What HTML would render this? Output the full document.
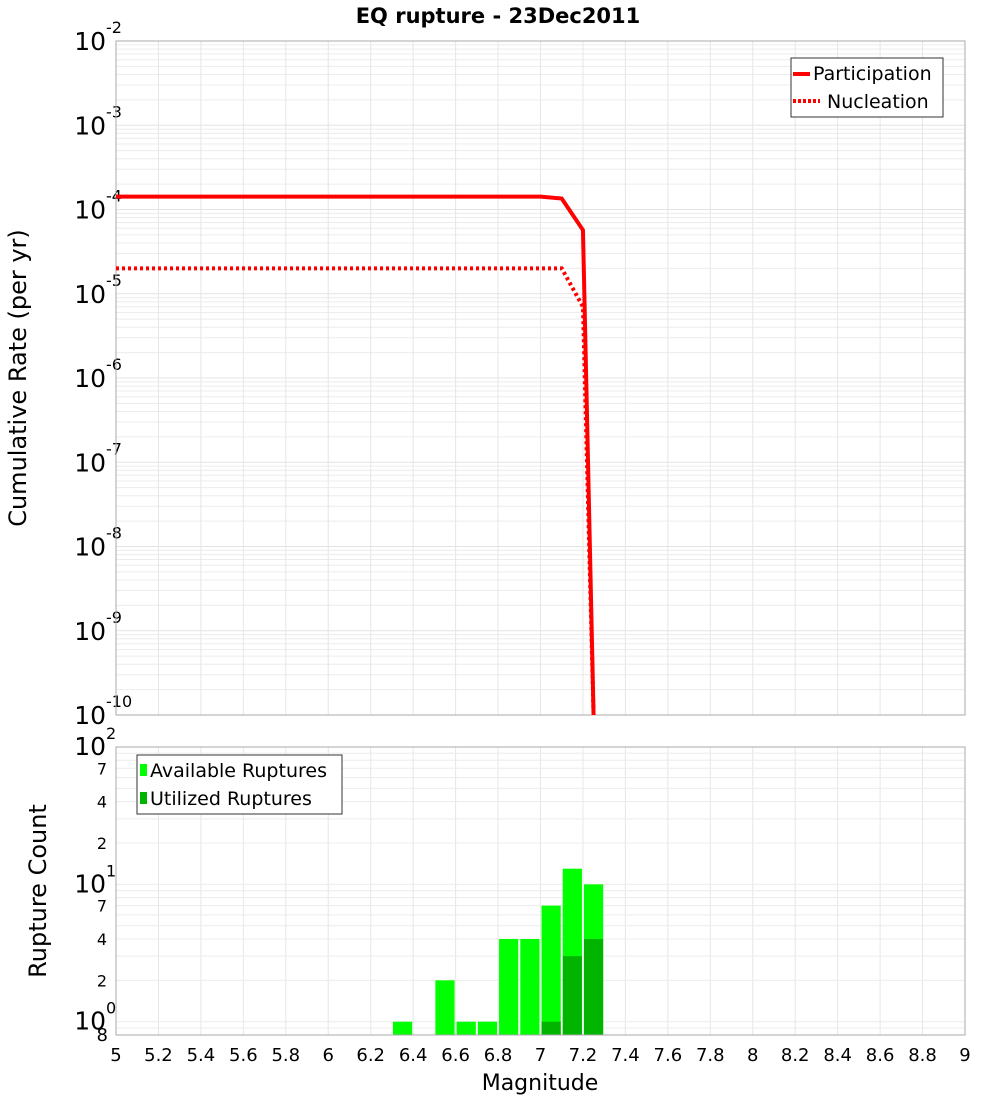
<!DOCTYPE html>
<html><head><meta charset="utf-8"><style>
body{margin:0;background:#fff;font-family:"Liberation Sans","DejaVu Sans",sans-serif}
svg text{font-family:"DejaVu Sans","Liberation Sans",sans-serif}
</style></head><body>
<svg id="c" width="1000" height="1100" xmlns="http://www.w3.org/2000/svg">
<rect width="1000" height="1100" fill="#fff"/>
<text x="498" y="23" font-size="21" font-weight="bold" text-anchor="middle">EQ rupture - 23Dec2011</text>
<g id="topG"></g>
<g id="botG"></g>
<text transform="translate(26,378) rotate(-90)" font-size="24" text-anchor="middle">Cumulative Rate (per yr)</text>
<text transform="translate(46,891) rotate(-90)" font-size="24" text-anchor="middle">Rupture Count</text>
<text x="540" y="1090" font-size="22" text-anchor="middle">Magnitude</text>
</svg>
<script>
const partMags=[5,7.0,7.1,7.2,7.25];
const partVals=[1.42e-4,1.42e-4,1.35e-4,5.7e-5,1e-10];
const nuclMags=[5,7.1,7.2,7.25];
const nuclVals=[2.0e-5,2.0e-5,7.0e-6,1e-10];
const binStarts=[6.3,6.5,6.6,6.7,6.8,6.9,7.0,7.1,7.2];
const availCounts=[1,2,1,1,4,4,7,13,10];
const usedCounts=[0,0,0,0,0,0,1,3,4];
const xTicks=["5","5.2","5.4","5.6","5.8","6","6.2","6.4","6.6","6.8","7","7.2","7.4","7.6","7.8","8","8.2","8.4","8.6","8.8","9"];
const topExps=[-2,-3,-4,-5,-6,-7,-8,-9,-10];
const botMinor=[2,4,7];

const NS="http://www.w3.org/2000/svg";
const L=116,R=965,T1=41,B1=715,T2=747,B2=1035;
const X=m=>L+(m-5)/4*(R-L);
const Y1=v=>T1+(-2-Math.log10(v))*(B1-T1)/8;
const bmin=0.8,bmax=100;
const Y2=v=>B2-(Math.log10(v)-Math.log10(bmin))/(Math.log10(bmax)-Math.log10(bmin))*(B2-T2);
function mk(p,t,a){const e=document.createElementNS(NS,t);for(const k in a)e.setAttribute(k,a[k]);p.appendChild(e);return e;}
const topG=document.getElementById('topG'),botG=document.getElementById('botG');
for(let d=-10;d<-2;d++)for(let k=2;k<=9;k++){const y=Y1(k*Math.pow(10,d));const l=mk(topG,'line',{x1:L,x2:R,y1:y,y2:y,stroke:'#ececec','stroke-width':1});

}
topExps.forEach(e=>{const y=Y1(Math.pow(10,e));const l=mk(topG,'line',{x1:L,x2:R,y1:y,y2:y,stroke:'#e4e4e4'});


const t=mk(topG,'text',{x:106,y:y+9,'font-size':25,'text-anchor':'end'});t.textContent='10';


const s=mk(topG,'text',{x:106,y:y-8,'font-size':16,'text-anchor':'start'});s.textContent=String(e);

});
xTicks.forEach((t,i)=>{const x=X(parseFloat(t));[[T1,B1,topG],[T2,B2,botG]].forEach(([a,b,g])=>{const l=mk(g,'line',{x1:x,x2:x,y1:a,y2:b,stroke:'#e6e6e6'});

});
const tx=mk(botG,'text',{x:x,y:1061,'font-size':18,'text-anchor':'middle'});tx.textContent=t;

});
const f1=mk(topG,'rect',{x:L,y:T1,width:R-L,height:B1-T1,fill:'none',stroke:'#aaa'});


const cp=mk(topG,'clipPath',{id:'cp'});mk(cp,'rect',{x:L,y:T1,width:R-L,height:B1-T1+2});
const pl=mk(topG,'polyline',{points:partMags.map((m,i)=>X(m)+','+Y1(partVals[i])).join(' '),fill:'none',stroke:'#f00','stroke-width':4,'clip-path':'url(#cp)'});


const nl=mk(topG,'polyline',{points:nuclMags.map((m,i)=>X(m)+','+Y1(nuclVals[i])).join(' '),fill:'none',stroke:'#f00','stroke-width':4,'stroke-dasharray':'3 3','clip-path':'url(#cp)'});


const lg=mk(topG,'g',{});


mk(lg,'rect',{x:791,y:58,width:152,height:59,fill:'#fff',stroke:'#333'});
mk(lg,'line',{x1:793,x2:810,y1:74,y2:74,stroke:'#f00','stroke-width':4});
mk(lg,'line',{x1:793,x2:820,y1:101,y2:101,stroke:'#f00','stroke-width':4,'stroke-dasharray':'3 2'});
let t1=mk(lg,'text',{x:813,y:80,'font-size':19});t1.textContent='Participation';


let t2=mk(lg,'text',{x:827,y:108,'font-size':19});t2.textContent='Nucleation';


[1,10].forEach(b=>{for(let k=1;k<=9;k++){const v=b*k;if(v<bmin)continue;const y=Y2(v);const l=mk(botG,'line',{x1:L,x2:R,y1:y,y2:y,stroke:'#ececec'});

}});
[0.8,0.9].forEach(v=>{const y=Y2(v);mk(botG,'line',{x1:L,x2:R,y1:y,y2:y,stroke:'#ececec'});});
[0,1,2].forEach(e=>{const y=Y2(Math.pow(10,e));const t=mk(botG,'text',{x:106,y:y+8,'font-size':25,'text-anchor':'end'});t.textContent='10';


const s=mk(botG,'text',{x:106,y:y-8,'font-size':16});s.textContent=String(e);

});
[1,10].forEach(b=>botMinor.forEach(k=>{const t=mk(botG,'text',{x:107,y:Y2(b*k)+6,'font-size':16,'text-anchor':'end'});t.textContent=String(k);

}));
const e8=mk(botG,'text',{x:108,y:Y2(0.8)+6,'font-size':18,'text-anchor':'end'});e8.textContent='8';


binStarts.forEach((m,i)=>{const x0=X(m)+1,w=X(m+0.1)-X(m)-2;
const a=mk(botG,'rect',{x:x0,y:Y2(availCounts[i]),width:w,height:B2-Y2(availCounts[i]),fill:'#00ff00'});


if(usedCounts[i]>0){const u=mk(botG,'rect',{x:x0,y:Y2(usedCounts[i]),width:w,height:B2-Y2(usedCounts[i]),fill:'#00b400'});

}});
const f2=mk(botG,'rect',{x:L,y:T2,width:R-L,height:B2-T2,fill:'none',stroke:'#aaa'});


const lg2=mk(botG,'g',{});


mk(lg2,'rect',{x:137,y:755,width:205,height:59,fill:'#fff',stroke:'#333'});
mk(lg2,'rect',{x:140,y:764,width:7,height:12,fill:'#00ff00'});
mk(lg2,'rect',{x:140,y:792,width:7,height:12,fill:'#00b400'});
let t3=mk(lg2,'text',{x:150,y:777,'font-size':19});t3.textContent='Available Ruptures';


let t4=mk(lg2,'text',{x:150,y:805,'font-size':19});t4.textContent='Utilized Ruptures';


</script>
</body></html>
